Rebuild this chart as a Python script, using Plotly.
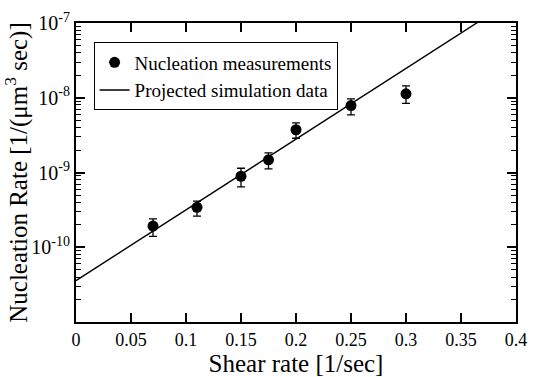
import numpy as np
import plotly.graph_objects as go

# Data
shear_rate = [0.07, 0.11, 0.15, 0.175, 0.2, 0.25, 0.3]
nucleation_rate = [1.92e-10, 3.42e-10, 8.91e-10, 1.48e-9, 3.73e-9, 7.87e-9, 1.13e-8]
err_upper = [2.39e-10, 4.13e-10, 1.14e-9, 1.83e-9, 4.6e-9, 9.63e-9, 1.44e-8]
err_lower = [1.40e-10, 2.61e-10, 6.44e-10, 1.12e-9, 2.87e-9, 5.9e-9, 8.41e-9]

sim_x = [0.0, 0.4]
sim_y = [3.58e-11, 2.18e-7]

x_ticks = [0, 0.05, 0.1, 0.15, 0.2, 0.25, 0.3, 0.35, 0.4]
x_ticktext = ["0", "0.05", "0.1", "0.15", "0.2", "0.25", "0.3", "0.35", "0.4"]
y_ticks = [1e-10, 1e-9, 1e-8, 1e-7]
y_ticktext = ["10<sup>-10</sup>", "10<sup>-9</sup>", "10<sup>-8</sup>", "10<sup>-7</sup>"]

minor_vals = [d * 10.0 ** e for e in range(-11, -7) for d in range(2, 10)]

err_plus = [u - v for u, v in zip(err_upper, nucleation_rate)]
err_minus = [v - l for v, l in zip(nucleation_rate, err_lower)]

FONT = "Liberation Serif, Times New Roman, serif"

fig = go.Figure()
fig.add_trace(go.Scatter(
    x=shear_rate, y=nucleation_rate, mode="markers",
    name="Nucleation measurements",
    marker=dict(color="black", size=11, symbol="circle"),
    error_y=dict(type="data", symmetric=False, array=err_plus, arrayminus=err_minus,
                 color="black", thickness=1.3, width=4),
))
fig.add_trace(go.Scatter(
    x=sim_x, y=sim_y, mode="lines", name="Projected simulation data",
    line=dict(color="black", width=1.4),
))

fig.update_layout(
    width=537, height=377,
    margin=dict(l=76, r=10, t=16, b=41),
    paper_bgcolor="white", plot_bgcolor="white",
    font=dict(family=FONT, color="black", size=18),
    showlegend=True,
    legend=dict(x=0.04, y=0.935, xanchor="left", yanchor="top",
                bordercolor="black", borderwidth=1, bgcolor="white",
                font=dict(family=FONT, size=19), tracegroupgap=0,
                itemwidth=30),
)
fig.update_xaxes(
    range=[0, 0.4], tickmode="array", tickvals=x_ticks, ticktext=x_ticktext,
    ticks="inside", ticklen=9, tickwidth=1.5, tickcolor="black",
    showline=True, linecolor="black", linewidth=2, mirror="allticks",
    showgrid=False, zeroline=False,
    tickfont=dict(family=FONT, size=18),
    title=dict(text="Shear rate [1/sec]", font=dict(family=FONT, size=25), standoff=0),
)
fig.update_yaxes(
    type="log", range=[-11, -7], tickmode="array", tickvals=y_ticks, ticktext=y_ticktext,
    ticks="inside", ticklen=9, tickwidth=1.5, tickcolor="black",
    showline=True, linecolor="black", linewidth=2, mirror="allticks",
    showgrid=False, zeroline=False,
    minor=dict(tickmode="array", tickvals=minor_vals, ticks="inside", ticklen=5,
               tickwidth=1, tickcolor="black", showgrid=False),
    tickfont=dict(family=FONT, size=20),
    title=dict(text="Nucleation Rate [1/(μm<sup>3</sup> sec)]", font=dict(family=FONT, size=25), standoff=2),
)

fig.write_html("out.html")
